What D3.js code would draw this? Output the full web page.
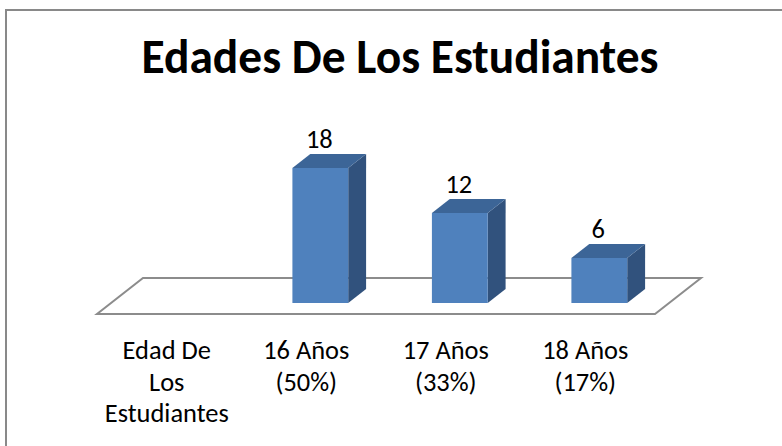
<!DOCTYPE html>
<html>
<head>
<meta charset="utf-8">
<script src="https://cdn.jsdelivr.net/npm/d3@7"></script>
<style>
  html, body { margin: 0; padding: 0; background: #fff; }
  svg { display: block; }
</style>
</head>
<body>
<svg id="chart" width="782" height="446"></svg>
<script>
// ---- data ----
const title = "Edades De Los Estudiantes";
const categories = ["Edad De Los Estudiantes", "16 Años (50%)", "17 Años (33%)", "18 Años (17%)"];
const values = [null, 18, 12, 6];
const tickLabels = [
  ["Edad De", "Los", "Estudiantes"],
  ["16 Años", "(50%)"],
  ["17 Años", "(33%)"],
  ["18 Años", "(17%)"]
];
const yDomain = [0, 20];

// ---- layout ----
const W = 782, H = 446;
const FONT = "Carlito, Calibri, 'Open Sans', sans-serif";
const floorFrontY = 314, floorLeft = 97, floorRight = 655;
const depth = { dx: 46, dy: -36 };
const barDepthFrac = 14 / 36;
const barOffsetFrac = 11 / 36;
const col = { front: "#4f81bd", top: "#3c6597", side: "#31527d" };

const svg = d3.select("#chart");

svg.append("rect")
  .attr("x", 6).attr("y", 10)
  .attr("width", W + 20).attr("height", H + 20)
  .attr("fill", "#fff").attr("stroke", "#898989").attr("stroke-width", 2);

// font size calibration helper
function fitSize(text, weight, target, base) {
  const m = svg.append("text").attr("font-family", FONT).attr("font-weight", weight)
    .attr("font-size", base).text(text);
  const w = m.node().getComputedTextLength();
  m.remove();
  return w > 0 ? base * target / w : base;
}
const titleSize = fitSize(title, "bold", 517, 40);
const labelSize = fitSize("Estudiantes", "normal", 124, 24);

svg.append("text")
  .attr("x", 400).attr("y", 73)
  .attr("text-anchor", "middle")
  .attr("font-family", FONT).attr("font-weight", "bold")
  .attr("font-size", titleSize).attr("fill", "#000")
  .text(title);

const x = d3.scaleBand().domain(categories)
  .range([floorLeft, floorRight]).paddingInner(0.6).paddingOuter(0.3);
const barBaseY = floorFrontY + depth.dy * barOffsetFrac;
const barShiftX = depth.dx * barOffsetFrac;
const y = d3.scaleLinear().domain(yDomain).range([barBaseY, barBaseY - 150]);

const fl = floorLeft, fr = floorRight;
svg.append("path")
  .attr("d", `M${fl},${floorFrontY}L${fr},${floorFrontY}L${fr + depth.dx},${floorFrontY + depth.dy}L${fl + depth.dx},${floorFrontY + depth.dy}Z`)
  .attr("fill", "#fff").attr("stroke", "#8c8c8c").attr("stroke-width", 2);

const bdx = depth.dx * barDepthFrac, bdy = depth.dy * barDepthFrac;
const data = categories.map((c, i) => ({ c, v: values[i] })).filter(d => d.v != null);
const g = svg.append("g");
data.forEach(d => {
  const x0 = x(d.c) + barShiftX, x1 = x0 + x.bandwidth();
  const yb = y(0), yt = y(d.v);
  g.append("path")
    .attr("d", `M${x1},${yb}L${x1 + bdx},${yb + bdy}L${x1 + bdx},${yt + bdy}L${x1},${yt}Z`)
    .attr("fill", col.side);
  g.append("path")
    .attr("d", `M${x0},${yt}L${x1},${yt}L${x1 + bdx},${yt + bdy}L${x0 + bdx},${yt + bdy}Z`)
    .attr("fill", col.top);
  g.append("rect")
    .attr("x", x0).attr("y", yt).attr("width", x1 - x0).attr("height", yb - yt)
    .attr("fill", col.front);
  g.append("text")
    .attr("x", (x0 + x1) / 2 - 1).attr("y", yt - 20)
    .attr("text-anchor", "middle")
    .attr("font-family", FONT).attr("font-size", labelSize).attr("fill", "#000")
    .text(d.v);
});

const lab = svg.append("g");
categories.forEach((c, i) => {
  const cx = x(c) + x.bandwidth() / 2;
  const txt = lab.append("text")
    .attr("text-anchor", "middle")
    .attr("font-family", FONT).attr("font-size", labelSize).attr("fill", "#000");
  tickLabels[i].forEach((line, j) => {
    txt.append("tspan").attr("x", cx).attr("y", 359 + j * 31.7).text(line);
  });
});
</script>
</body>
</html>
